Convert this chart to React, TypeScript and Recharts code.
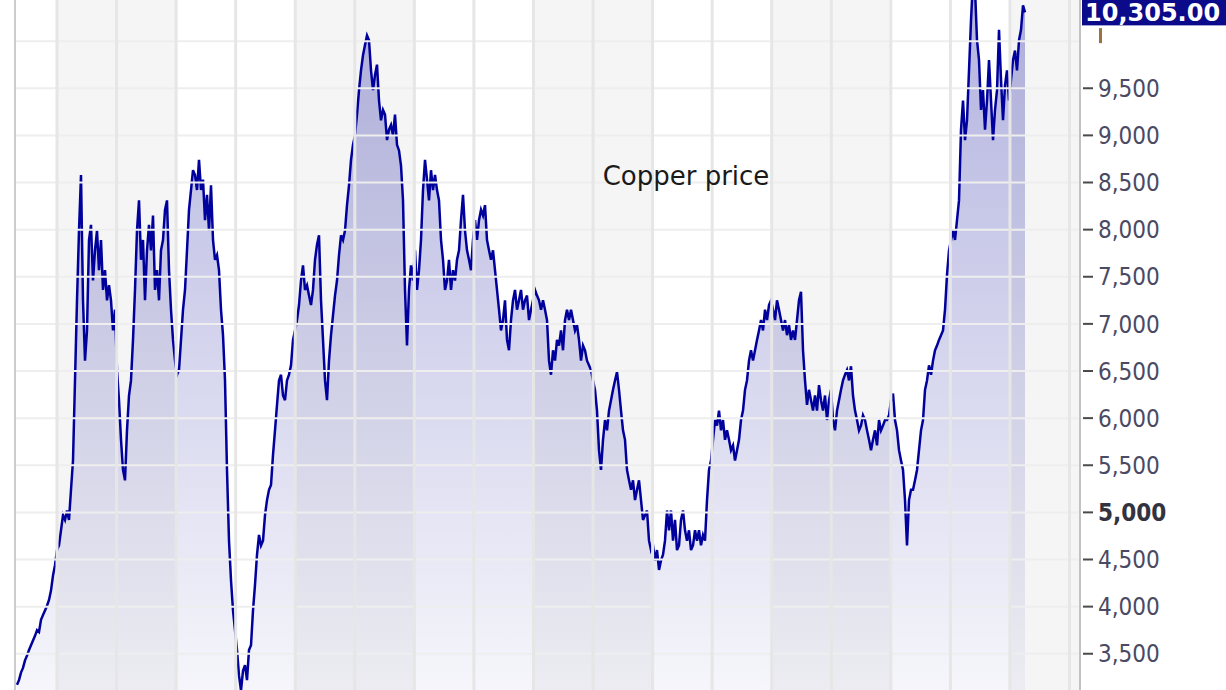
import React from "react"
import { AreaChart, Area, XAxis, YAxis, ReferenceLine, ReferenceArea } from "recharts"

// daily copper closes, sampled about every 12 days (decimal years)
const sampleStart = 2005.3284
const sampleStep = 0.03358

const prices = [
  3170, 3220, 3300, 3350, 3430, 3480, 3540, 3590, 3640, 3690,
  3750, 3730, 3860, 3910, 3960, 4010, 4070, 4170, 4330, 4440,
  4600, 4650, 4810, 4970, 4920, 5020, 4920, 5240, 5550, 6400,
  7250, 7990, 8580, 7250, 6610, 6930, 7890, 8050, 7460, 7780,
  7990, 7570, 7890, 7360, 7570, 7250, 7410, 7250, 6930, 7150,
  6510, 6190, 5770, 5450, 5340, 5870, 6240, 6400, 6830, 7360,
  7990, 8310, 7680, 7890, 7250, 7780, 8050, 7780, 8150, 7360,
  7570, 7250, 7780, 7890, 8210, 8310, 7570, 7150, 6830, 6610,
  6460, 6510, 6830, 7150, 7360, 7780, 8210, 8420, 8630, 8580,
  8420, 8740, 8420, 8530, 8100, 8370, 7990, 8470, 7890, 7680,
  7730, 7570, 7150, 6880, 6400, 5450, 4700, 4280, 3960, 3750,
  3540, 3270, 3110, 3320, 3380, 3220, 3540, 3590, 3960, 4230,
  4550, 4760, 4650, 4700, 4970, 5130, 5240, 5290, 5610, 5870,
  6140, 6400, 6460, 6240, 6190, 6400, 6460, 6560, 6830, 6930,
  7040, 7200, 7460, 7620, 7360, 7410, 7300, 7200, 7360, 7680,
  7840, 7940, 7250, 6830, 6400, 6190, 6610, 6880, 7090, 7300,
  7460, 7730, 7940, 7890, 7990, 8260, 8470, 8740, 8900, 9000,
  9220, 9480, 9690, 9850, 9960, 10060, 10010, 9690, 9480, 9640,
  9750, 9370, 9160, 9270, 9220, 8950, 9060, 9110, 9000, 9220,
  8900, 8840, 8680, 8310, 7360, 6770, 7360, 7620, 7460, 7780,
  7360, 7570, 7890, 8420, 8740, 8530, 8310, 8630, 8420, 8580,
  8420, 8310, 7890, 7680, 7360, 7460, 7680, 7360, 7570, 7460,
  7680, 7780, 8100, 8370, 7990, 7780, 7680, 7570, 7890, 8100,
  7890, 8100, 8210, 8150, 8260, 7890, 7780, 7680, 7780, 7570,
  7360, 7150, 6930, 7040, 7250, 6830, 6720, 7040, 7250, 7360,
  7150, 7250, 7360, 7150, 7250, 7300, 7040, 7150, 7250, 7360,
  7300, 7250, 7150, 7250, 7150, 7040, 6610, 6460, 6720, 6610,
  6830, 6770, 6930, 6720, 7040, 7150, 7040, 7150, 7040, 6930,
  6990, 6830, 6610, 6770, 6720, 6610, 6560, 6510, 6400, 6300,
  6080, 5660, 5450, 5770, 5980, 5870, 6080, 6190, 6300, 6400,
  6490, 6300, 6080, 5870, 5770, 5450, 5340, 5240, 5340, 5130,
  5240, 5340, 5130, 4920, 4970, 5020, 4700, 4600, 4650, 4490,
  4600, 4390, 4490, 4550, 4700, 5020, 4810, 5020, 4700, 4920,
  4600, 4650, 4920, 5020, 4810, 4700, 4810, 4600, 4650, 4810,
  4700, 4810, 4650, 4760, 4700, 5130, 5450, 5550, 5770, 5980,
  5920, 6080, 5870, 5980, 5770, 5870, 5770, 5660, 5710, 5550,
  5660, 5770, 5980, 6080, 6300, 6400, 6610, 6720, 6610, 6720,
  6830, 6930, 7040, 6930, 7150, 7040, 7200, 7250, 7150, 7040,
  7250, 7150, 7040, 6930, 7040, 6880, 6990, 6830, 6930, 6830,
  7040, 7250, 7340, 6720, 6400, 6140, 6300, 6190, 6080, 6240,
  6080, 6350, 6190, 6080, 6240, 5980, 6190, 6300, 5980, 5870,
  6080, 6190, 6300, 6400, 6460, 6510, 6400, 6550, 6240, 6080,
  5980, 5870, 5920, 6030, 5980, 5870, 5770, 5660, 5770, 5870,
  5710, 5980, 5870, 5920, 5980, 5980, 6030, 6190, 6260, 5980,
  5870, 5660, 5550, 5450, 5130, 4650, 5130, 5240, 5240, 5340,
  5450, 5660, 5870, 5980, 6300, 6400, 6560, 6460, 6610, 6720,
  6770, 6830, 6880, 6930, 7150, 7520, 7780, 7890, 7990, 7890,
  8100, 8310, 9060, 9370, 8950, 9160, 9690, 10220, 10650, 10550,
  10010, 9800, 9270, 9480, 9060, 9370, 9800, 9370, 8950, 9270,
  9480, 10120, 9590, 9160, 9530, 9690, 9370, 9590, 9800, 9900,
  9690, 10010, 10120, 10380, 10305,
]

const yearLines = [2006, 2007, 2008, 2009, 2010, 2011, 2012, 2013, 2014, 2015, 2016, 2017, 2018, 2019, 2020, 2021, 2022, 2023]
const shadedYears = [[2006, 2008], [2010, 2012], [2014, 2016], [2018, 2020], [2022, 2024]]
const priceTicks = [3000, 3500, 4000, 4500, 5000, 5500, 6000, 6500, 7000, 7500, 8000, 8500, 9000, 9500, 10000]

const xDomain: [number, number] = [2005.2948, 2023.176]
const yDomain: [number, number] = [2500, 10500]
const lastPrice = prices[prices.length - 1]

const data = prices.map((price, i) => ({ t: sampleStart + i * sampleStep, price }))

const AXIS_X = 1080
const axisFont = "'DejaVu Sans Condensed', 'DejaVu Sans', sans-serif"

function PriceTick(props: any) {
  const { y, payload } = props
  const v = payload.value as number
  if (v === 10000) {
    return <rect x={AXIS_X + 19} y={y - 13} width={3} height={15} fill="#9a7440" />
  }
  const bold = v === 5000
  return (
    <g>
      <line x1={AXIS_X + 3} x2={AXIS_X + 13} y1={y} y2={y} stroke="#4a4a4a" strokeWidth={2} />
      <text
        x={AXIS_X + 18}
        y={y}
        dy="0.36em"
        fontFamily={axisFont}
        fontSize={24}
        fontWeight={bold ? 700 : 400}
        fill={bold ? "#333340" : "#4a4a64"}
      >
        {v.toLocaleString("en-US")}
      </text>
    </g>
  )
}

function PriceBadge(props: any) {
  const { viewBox } = props
  if (!viewBox) return null
  const x = viewBox.x + viewBox.width + 2
  const y = viewBox.y
  return (
    <g>
      <rect x={x} y={y - 15} width={146} height={28} fill="#0a0a8a" />
      <text
        x={x + 3}
        y={y}
        dy="0.36em"
        fontFamily="'DejaVu Sans', sans-serif"
        fontSize={24}
        fontWeight={700}
        fill="#ffffff"
      >
        {lastPrice.toLocaleString("en-US", { minimumFractionDigits: 2 })}
      </text>
    </g>
  )
}

export default function App() {
  return (
    <div style={{ position: "fixed", left: 0, top: 0, width: 1226, height: 690, overflow: "hidden", background: "#fff" }}>
      <div style={{ position: "absolute", left: 0, top: -6 }}>
        <AreaChart width={1226} height={754} data={data} margin={{ top: 0, right: 0, bottom: 0, left: 15 }}>
          <defs>
            <linearGradient id="cuFill" x1="0" y1="0" x2="0" y2="1">
              <stop offset="0%" stopColor="#3c3caf" stopOpacity={0.4} />
              <stop offset="100%" stopColor="#3c3caf" stopOpacity={0.02} />
            </linearGradient>
          </defs>
          <XAxis type="number" dataKey="t" domain={xDomain} allowDataOverflow hide />
          <YAxis
            orientation="right"
            width={146}
            domain={yDomain}
            allowDataOverflow
            ticks={priceTicks}
            interval={0}
            axisLine={{ stroke: "#c2c2c2", strokeWidth: 2 }}
            tickLine={false}
            tick={<PriceTick />}
          />
          {shadedYears.map(([a, b]) => (
            <ReferenceArea key={a} x1={a} x2={b} ifOverflow="hidden" fill="#f5f5f5" fillOpacity={1} stroke="none" />
          ))}
          <Area
            type="linear"
            dataKey="price"
            stroke="#00009c"
            strokeWidth={2.5}
            fill="url(#cuFill)"
            fillOpacity={1}
            dot={false}
            activeDot={false}
            isAnimationActive={false}
          />
          {priceTicks.map((v) => (
            <ReferenceLine key={"h" + v} y={v} stroke="#eeeeee" strokeWidth={2} />
          ))}
          {yearLines.map((yr) => (
            <ReferenceLine key={"v" + yr} x={yr} stroke="#e6e6e6" strokeWidth={3} />
          ))}
          <ReferenceLine x={xDomain[0]} stroke="#cccccc" strokeWidth={2} />
          <ReferenceLine y={lastPrice} stroke="none" label={<PriceBadge />} />
        </AreaChart>
      </div>
      <div
        style={{
          position: "absolute",
          left: 686,
          top: 176,
          transform: "translate(-50%, -50%)",
          fontFamily: "'DejaVu Sans', sans-serif",
          fontSize: 26,
          color: "#1a1a1a",
          whiteSpace: "nowrap",
          lineHeight: 1,
        }}
      >
        Copper price
      </div>
    </div>
  )
}
